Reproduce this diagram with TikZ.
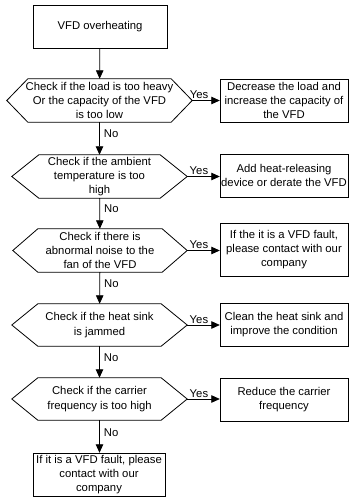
\documentclass[tikz,border=0pt]{standalone}
\usepackage{fontspec}
\setmainfont{Liberation Sans}
\usetikzlibrary{arrows.meta}

\tikzset{
	procbox/.style={draw, minimum width=#1, minimum height=43pt, inner sep=0pt, align=center},
	checkbox/.style={minimum width=#1, minimum height=43pt, inner sep=0pt, align=center},
	flow/.style={-{Triangle[length=8.5pt,width=7.5pt]}, line width=0.8pt},
	yeslbl/.style={above, inner sep=1pt},
	nolbl/.style={right, inner sep=1pt, xshift=3pt},
}

% hexagon round a check node: name, slope offset
\newcommand{\hexagon}[2]{%
	\draw[line width=0.8pt] (#1.west) -- ([xshift=#2]#1.north west) -- ([xshift=-#2]#1.north east)
	-- (#1.east) -- ([xshift=-#2]#1.south east) -- ([xshift=#2]#1.south west) -- cycle;}

\begin{document}
\begin{tikzpicture}[x=1pt, y=-1pt, font=\fontsize{11.3pt}{14.3pt}\selectfont]
	
	\useasboundingbox (0,0) rectangle (349,497);
	
	% Start
	\node[procbox=134pt] (start) at (100,26.5) {VFD overheating};
	
	% Checks
	\node[checkbox=185pt] (chk1) at (99.5,100.5) {Check if the load is too heavy\\Or the capacity of the VFD\\is too low};
	\node[checkbox=175pt] (chk2) at (99.5,176.5) {Check if the ambient\\temperature is too\\high};
	\node[checkbox=174pt] (chk3) at (100,250.5) {Check if there is\\abnormal noise to the\\fan of the VFD};
	\node[checkbox=175pt, minimum height=42pt] (chk4) at (99.5,325) {Check if the heat sink\\is jammed};
	\node[checkbox=175pt, minimum height=42pt] (chk5) at (99.5,399) {Check if the carrier\\frequency is too high};
	\hexagon{chk1}{21pt}
	\hexagon{chk2}{27pt}
	\hexagon{chk3}{25pt}
	\hexagon{chk4}{26pt}
	\hexagon{chk5}{26pt}
	
	% Actions
	\node[procbox=128pt] (act1) at (284,100.5) {Decrease the load and\\increase the capacity of\\the VFD};
	\node[procbox=128pt] (act2) at (284,175.5) {Add heat-releasing\\device or derate the VFD};
	\node[procbox=128pt, minimum height=53pt] (act3) at (284,249.5) {If the it is a VFD fault,\\please contact with our\\company};
	\node[procbox=128pt] (act4) at (284,324.5) {Clean the heat sink and\\improve the condition};
	\node[procbox=128pt] (act5) at (284,399.5) {Reduce the carrier\\frequency};
	
	% End
	\node[procbox=132pt] (stop) at (99,474.5) {If it is a VFD fault, please\\contact with our\\company};
	
	% Main line
	\draw[flow] (start) -- (chk1);
	\draw[flow] (chk1) -- node[nolbl, pos=0.35] {No} (chk2);
	\draw[flow] (chk2) -- node[nolbl, pos=0.33] {No} (chk3);
	\draw[flow] (chk3) -- node[nolbl, pos=0.35] {No} (chk4);
	\draw[flow] (chk4) -- node[nolbl, pos=0.37] {No} (chk5);
	\draw[flow] (chk5.south) -- node[nolbl, pos=0.37] {No} (stop.north -| chk5.south);
	
	% Yes branches
	\draw[flow] (chk1.east) -- node[yeslbl, pos=0.25] {Yes} (act1.west);
	\draw[flow] (chk2.east) -- node[yeslbl, pos=0.36] {Yes} (act2.west |- chk2.east);
	\draw[flow] (chk3.east) -- node[yeslbl, pos=0.36] {Yes} (act3.west |- chk3.east);
	\draw[flow] (chk4.east) -- node[yeslbl, pos=0.36] {Yes} (act4.west |- chk4.east);
	\draw[flow] (chk5.east) -- node[yeslbl, pos=0.36] {Yes} (act5.west |- chk5.east);
	
\end{tikzpicture}
\end{document}
